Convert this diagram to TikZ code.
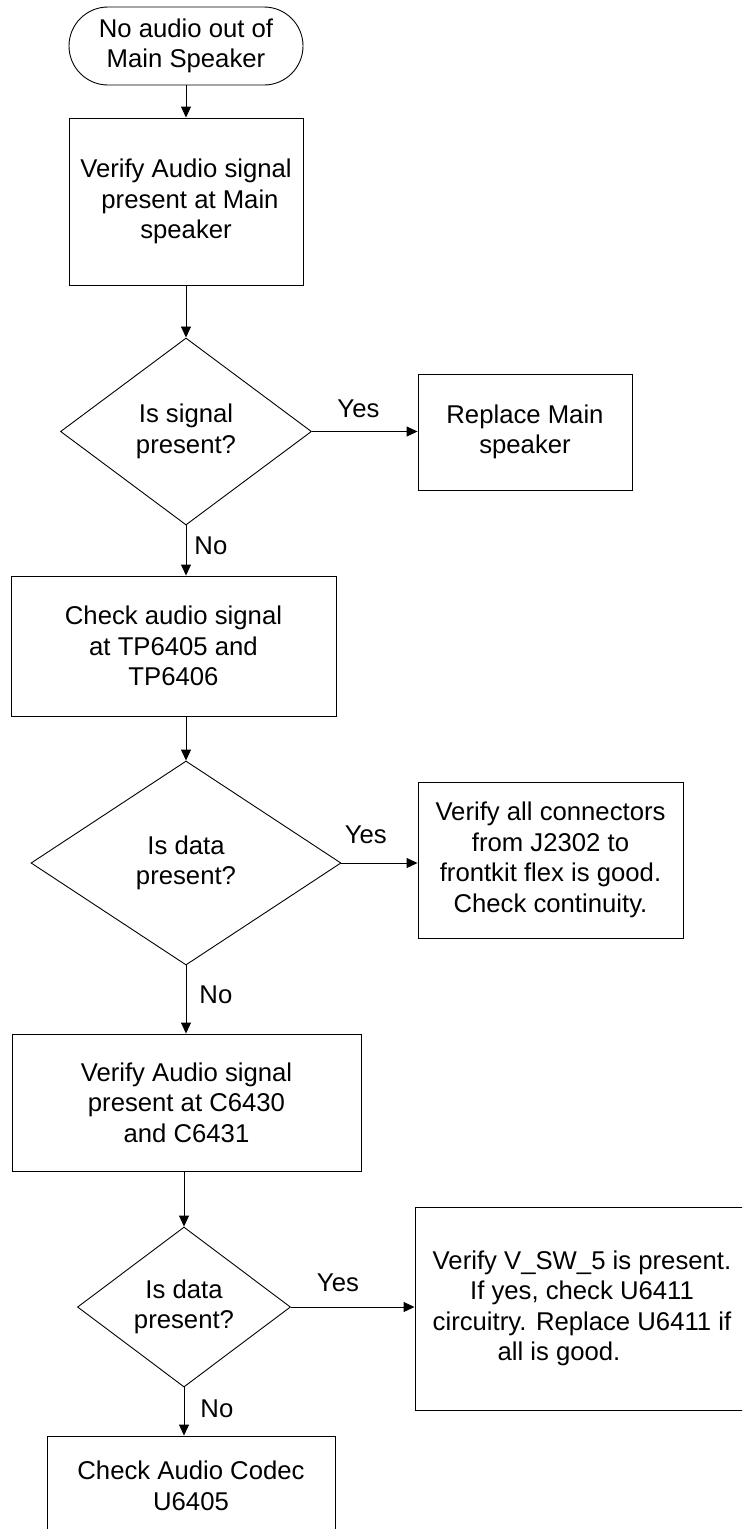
\documentclass[tikz,border=0pt]{standalone}
\usepackage{fontspec}
\setmainfont{Liberation Sans}
\usetikzlibrary{positioning, arrows.meta, shapes.geometric}

\begin{document}
\begin{tikzpicture}[x=1pt, y=-1pt, >={Triangle[length=11pt,width=10pt]},
        line width=0.9pt,
        every node/.style={font=\fontsize{25.7pt}{30.5pt}\selectfont, align=center, inner sep=0pt},
        box/.style={draw, rectangle},
        term/.style={draw, rectangle, rounded corners=39pt, minimum width=234pt, minimum height=78pt},
        decision/.style={draw, diamond}]
        \clip (0,0) rectangle (742,1529);

        \node[term] (start) at (186,46) {No audio out of\\Main Speaker};
        \node[box, minimum width=234pt, minimum height=167pt] (verify) at (186,201.5) {Verify Audio signal\\\hspace*{8pt}present at Main\\speaker};
        \node[decision, minimum width=251pt, minimum height=187pt] (sigq) at (186,431.5) {Is signal\\present?};
        \node[box, minimum width=214pt, minimum height=116pt] (replace) at (525,432) {Replace Main\\speaker};
        \node[box, minimum width=325pt, minimum height=140pt] (checktp) at (173.5,646) {Check audio signal\\at TP6405 and\\TP6406};
        \node[decision, minimum width=310pt, minimum height=204pt] (dataq) at (186,863) {Is data\\present?};
        \node[box, minimum width=265pt, minimum height=156pt] (conn) at (550.5,860) {Verify all connectors\\from J2302 to\\frontkit flex is good.\\Check continuity.};
        \node[box, minimum width=349pt, minimum height=137pt] (verifyc) at (186.5,1102.5) {Verify Audio signal\\present at C6430\\and C6431};
        \node[decision, minimum width=213pt, minimum height=160pt] (codecq) at (184,1307) {Is data\\present?};
        \node[box, minimum width=334pt, minimum height=203pt] (vsw) at (582,1308.5) {Verify V\_SW\_5 is present.\\If yes, check U6411\\circuitry. Replace U6411 if\\all is good.\hspace*{46pt}};
        \node[box, minimum width=288pt, minimum height=100pt] (codec) at (191,1486) {Check Audio Codec\\U6405};

        \draw[->] (start) -- (verify);
        \draw[->] (verify) -- (sigq);
        \draw[->] (sigq.east) -- node[above=13pt, pos=0.44] {Yes} (sigq.east -| replace.west);
        \draw[->] (sigq.south) -- node[right=8pt, pos=0.41] {No} (sigq.south |- checktp.north);
        \draw[->] (dataq.north |- checktp.south) -- (dataq.north);
        \draw[->] (dataq.east) -- node[above=19pt, pos=0.32] {Yes} (dataq.east -| conn.west);
        \draw[->] (dataq.south) -- node[right=13pt, pos=0.43] {No} (dataq.south |- verifyc.north);
        \draw[->] (codecq.north |- verifyc.south) -- (codecq.north);
        \draw[->] (codecq.east) -- node[above=15pt, pos=0.38] {Yes} (codecq.east -| vsw.west);
        \draw[->] (codecq.south) -- node[right=16pt, pos=0.44] {No} (codecq.south |- codec.north);
\end{tikzpicture}
\end{document}
